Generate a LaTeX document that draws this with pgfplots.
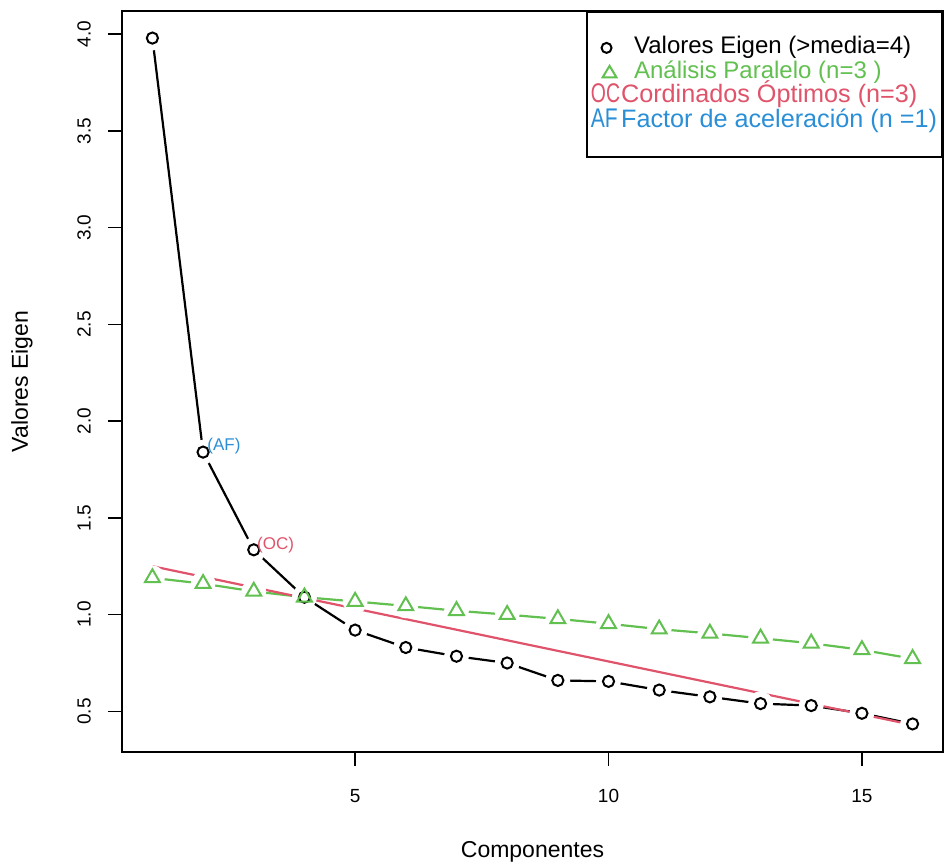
\documentclass[border=0pt]{standalone}
\usepackage{fontspec}
\setmainfont{Liberation Sans}
\usepackage{graphicx}
\usepackage{pgfplots}
\usepackage{pgfplotstable}
\pgfplotsset{compat=1.18}
\definecolor{ocred}{HTML}{DF536B}
\definecolor{apgreen}{HTML}{61C04F}
\definecolor{afblue}{HTML}{2A8FD6}

% eigenvalues of the 16 components
\pgfplotstableread{
x y
1 3.98
2 1.84
3 1.335
4 1.09
5 0.92
6 0.83
7 0.785
8 0.75
9 0.66
10 0.655
11 0.61
12 0.575
13 0.54
14 0.53
15 0.49
16 0.435
}\eigen

% parallel analysis
\pgfplotstableread{
x y
1 1.19
2 1.16
3 1.12
4 1.09
5 1.068
6 1.045
7 1.02
8 1.0
9 0.978
10 0.953
11 0.925
12 0.903
13 0.878
14 0.852
15 0.818
16 0.772
}\paral

\begin{document}
\begin{tikzpicture}
\path[use as bounding box] (-61pt,-57pt) rectangle (414pt,376pt);
\begin{axis}[
    at={(0,0)}, anchor=south west,
    scale only axis,
    width=410.5pt, height=370.5pt,
    xmin=0.4, xmax=16.6,
    ymin=0.29, ymax=4.12,
    xtick={5,10,15},
    ytick={0.5,1.0,1.5,2.0,2.5,3.0,3.5,4.0},
    xtick pos=left, ytick pos=left,
    tick align=outside,
    major tick length=7pt,
    tick style={black, line width=0.8pt},
    axis line style={black, line width=1pt},
    /pgf/number format/assume math mode=true,
    tick label style={font=\fontsize{9.5}{11}\selectfont},
    yticklabel style={rotate=90, anchor=south,
        /pgf/number format/.cd, fixed, fixed zerofill, precision=1},
    xticklabel shift=8pt,
    yticklabel shift=5pt,
    xlabel={Componentes},
    ylabel={Valores Eigen},
    label style={font=\fontsize{11.5}{13}\selectfont},
    xlabel style={at={(axis description cs:0.5,0)}, anchor=center, yshift=-50pt},
    ylabel style={at={(axis description cs:0,0.5)}, anchor=center, yshift=50pt},
    legend cell align=left,
    legend style={at={(1,1)}, anchor=north east, draw=black, line width=1pt,
        fill=white, font=\fontsize{12}{14}\selectfont,
        inner xsep=2pt, inner ysep=12pt, row sep=0.3pt,
        nodes={inner sep=0.5pt, text height=8.5pt, text depth=2.4pt}},
]
% type "b" lines: line, then white gaps, then marks
\addplot[black, line width=1.1pt, forget plot] table {\eigen};
\addplot[only marks, mark=*, mark size=6pt, mark options={draw=white, fill=white}, forget plot] table {\eigen};
\addplot[apgreen, line width=1.1pt, forget plot] table {\paral};
\addplot[only marks, mark=*, mark size=6pt, mark options={draw=white, fill=white}, forget plot] table {\paral};
\addplot[only marks, mark=o, mark size=2.8pt, mark options={black, line width=1pt}, forget plot] table {\eigen};
\addplot[only marks, mark=triangle, mark size=4.3pt, mark options={apgreen, line width=1pt}, forget plot] table {\paral};
% optimal coordinates line
\addplot[ocred, line width=1.1pt, forget plot] coordinates {(1,1.25) (16,0.43)};

\coordinate (af) at (axis cs:2,1.84);
\coordinate (oc) at (axis cs:3,1.335);

\addlegendimage{legend image code/.code={
    \path[draw=none, fill=none] (0pt,-3pt) rectangle (14pt,3pt);
    \draw[black, line width=1pt] (7.5pt,0pt) circle (2.5pt);}}
\addlegendentry{\hspace*{6.5pt}Valores Eigen (>media=4)}
\addlegendimage{legend image code/.code={
    \path[draw=none, fill=none] (0pt,-3pt) rectangle (14pt,3pt);
    \draw[apgreen, line width=1pt] (5.5pt,-2.6pt) -- (12.5pt,-2.6pt) -- (9pt,3.2pt) -- cycle;}}
\addlegendentry{\hspace*{6.5pt}\textcolor{apgreen}{Análisis Paralelo (n=3 )}}
\addlegendimage{legend image code/.code={
    \path[draw=none, fill=none] (0pt,-3pt) rectangle (14pt,3pt);
    \node[text=ocred, anchor=center, inner sep=0pt, font=\fontsize{13.5}{15}\selectfont] at (7pt,0pt) {\scalebox{0.72}[1]{OC}};}}
\addlegendentry{\fontsize{12.6}{14}\selectfont\textcolor{ocred}{Cordinados Óptimos (n=3)}}
\addlegendimage{legend image code/.code={
    \path[draw=none, fill=none] (0pt,-3pt) rectangle (14pt,3pt);
    \node[text=afblue, anchor=center, inner sep=0pt, font=\fontsize{13.5}{15}\selectfont] at (6.4pt,0pt) {\scalebox{0.78}[1]{AF}};}}
\addlegendentry{\fontsize{12.6}{14}\selectfont\textcolor{afblue}{Factor de aceleración (n =1)}}
\end{axis}
% point annotations, drawn over the markers
\node[afblue, anchor=west, inner sep=0pt, font=\fontsize{8.5}{10}\selectfont, xshift=2pt, yshift=3pt] at (af) {(AF)};
\node[ocred, anchor=west, inner sep=0pt, font=\fontsize{8.5}{10}\selectfont, xshift=1.5pt, yshift=2.5pt] at (oc) {(OC)};
\end{tikzpicture}
\end{document}
